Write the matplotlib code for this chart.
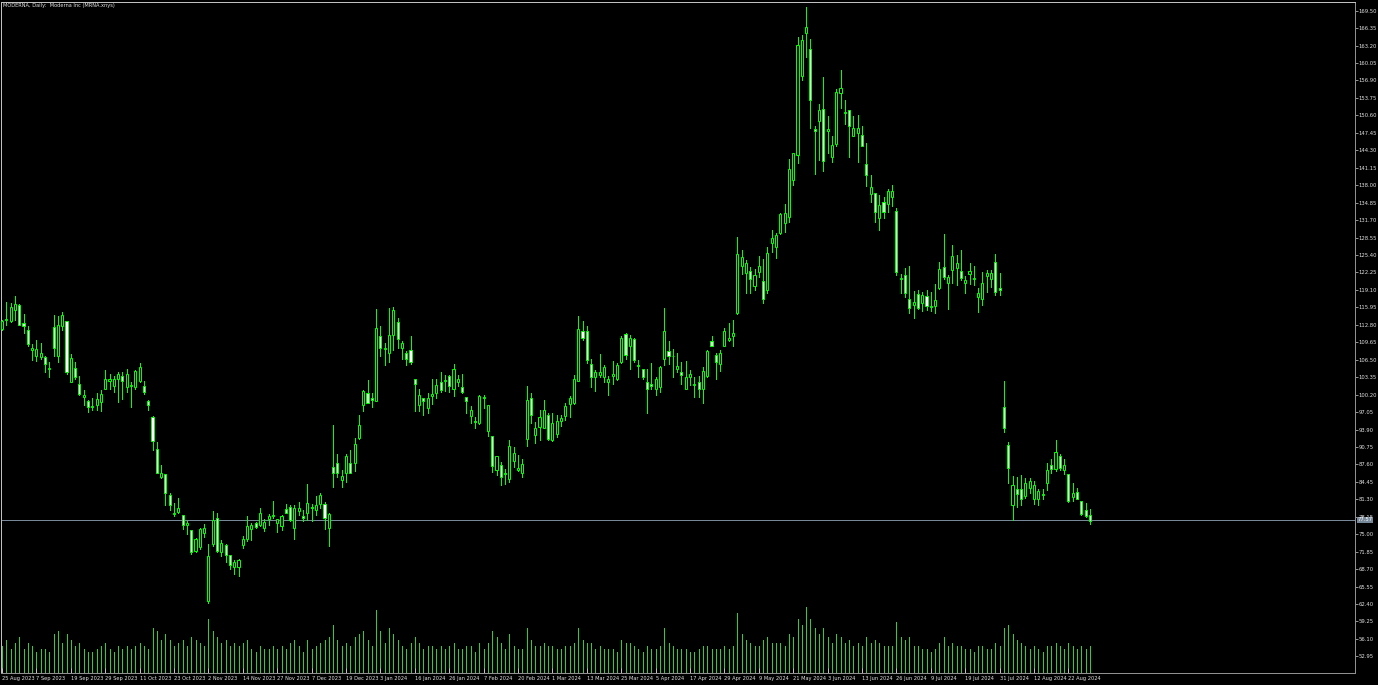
import matplotlib
matplotlib.use('Agg')
import matplotlib.pyplot as plt
from matplotlib import font_manager
import matplotlib.transforms as mtransforms

# ---------------- data (MRNA daily) ----------------
opens = [112.0, 113.6, 113.4, 115.4, 116.4, 113.1, 111.8, 108.3, 107.2, 106.9,
         107.0, 104.8, 112.4, 107.2, 112.5, 113.4, 102.4, 105.0, 102.1, 99.8,
         99.0, 98.0, 98.3, 98.9, 101.3, 102.7, 101.8, 103.0, 103.6, 101.5,
         101.8, 101.5, 102.7, 101.7, 99.1, 96.2, 90.3, 85.3, 85.9, 82.1,
         78.7, 79.1, 78.5, 76.7, 75.7, 72.0, 72.7, 75.3, 63.0, 73.2,
         77.9, 71.8, 73.0, 71.2, 69.0, 69.1, 73.0, 74.1, 75.9, 77.0,
         76.7, 76.1, 77.7, 78.2, 77.0, 76.4, 79.5, 80.0, 76.2, 79.2,
         78.2, 78.8, 79.9, 79.4, 80.4, 80.4, 76.2, 87.1, 87.8, 84.8,
         86.0, 87.8, 87.8, 92.4, 98.3, 100.5, 99.5, 99.1, 110.8, 108.4,
         107.7, 111.0, 113.3, 108.6, 107.7, 108.3, 103.0, 98.3, 99.5, 97.7,
         100.0, 100.5, 102.4, 102.7, 103.6, 101.2, 102.5, 101.5, 99.7, 96.3,
         95.4, 95.0, 99.5, 93.7, 92.7, 86.6, 87.5, 86.1, 85.0, 88.3,
         86.6, 86.0, 92.1, 99.5, 92.9, 94.4, 94.2, 96.6, 92.0, 93.0,
         95.5, 96.3, 98.5, 98.6, 102.7, 111.7, 111.6, 105.7, 103.4, 103.7,
         103.4, 102.5, 103.6, 103.1, 106.0, 111.1, 108.9, 110.2, 105.5, 104.9,
         102.5, 102.1, 101.2, 101.6, 106.6, 108.1, 107.2, 104.9, 104.3, 101.3,
         103.3, 102.0, 102.5, 101.3, 103.6, 109.8, 107.4, 105.7, 109.0, 110.1,
         110.7, 114.9, 123.4, 122.1, 122.6, 119.8, 122.4, 120.7, 119.0, 127.6,
         126.8, 129.3, 131.1, 132.2, 138.9, 143.5, 157.7, 165.4, 162.5, 148.2,
         149.5, 151.7, 147.7, 143.0, 145.4, 154.6, 151.0, 151.6, 146.9, 147.5,
         147.1, 141.8, 136.4, 136.6, 132.0, 135.0, 134.6, 135.8, 133.3, 121.1,
         121.8, 117.4, 116.4, 118.3, 116.7, 118.0, 116.1, 116.2, 119.4, 123.2,
         120.4, 122.7, 123.0, 122.6, 120.4, 122.0, 121.1, 117.9, 117.4, 121.6,
         121.0, 124.2, 119.5, 98.0, 91.1, 80.2, 83.2, 83.2, 81.9, 83.4,
         81.3, 81.3, 82.1, 84.3, 87.5, 86.7, 89.1, 86.6, 85.8, 81.7,
         82.6, 81.0, 79.3, 78.4]
highs = [113.7, 117.0, 116.7, 118.0, 116.5, 114.8, 112.5, 109.3, 110.1, 109.5,
         107.1, 106.1, 114.6, 114.3, 115.2, 113.4, 107.5, 106.1, 103.6, 101.0,
         99.3, 99.5, 100.4, 101.0, 104.6, 104.0, 103.6, 104.3, 104.3, 104.9,
         102.4, 104.6, 105.9, 102.7, 99.2, 96.3, 91.6, 87.5, 85.9, 82.4,
         80.7, 81.5, 78.5, 77.3, 75.7, 74.4, 76.2, 76.8, 73.2, 79.2,
         78.8, 73.9, 73.3, 71.2, 70.3, 70.5, 74.7, 78.3, 77.0, 77.2,
         79.7, 77.7, 78.6, 81.0, 77.7, 78.5, 80.4, 80.3, 80.3, 80.9,
         79.4, 84.1, 80.4, 81.9, 82.5, 80.9, 78.8, 94.7, 89.5, 86.6,
         89.5, 90.2, 92.3, 96.5, 101.0, 102.8, 100.5, 115.6, 112.5, 109.5,
         115.8, 116.0, 114.0, 109.8, 108.0, 110.8, 103.0, 101.3, 99.5, 100.4,
         103.0, 103.0, 104.2, 103.7, 103.7, 105.7, 103.7, 104.0, 99.8, 98.1,
         96.2, 100.1, 100.1, 98.4, 92.7, 89.1, 88.1, 86.7, 92.0, 90.8,
         89.3, 88.5, 101.8, 100.5, 95.3, 97.4, 99.2, 96.8, 96.8, 96.5,
         96.5, 98.6, 100.0, 103.7, 114.3, 113.4, 112.5, 106.7, 104.6, 107.5,
         105.5, 103.6, 106.3, 105.9, 110.8, 111.3, 111.0, 110.4, 106.5, 104.9,
         104.9, 105.9, 103.4, 105.4, 115.8, 109.8, 108.4, 107.8, 106.0, 106.3,
         104.6, 103.4, 103.6, 105.2, 108.3, 110.8, 107.8, 108.3, 112.2, 113.2,
         113.7, 128.7, 126.3, 124.5, 123.3, 122.8, 125.2, 124.6, 126.9, 129.9,
         129.3, 132.9, 134.6, 142.7, 143.9, 164.8, 165.1, 170.1, 164.3, 148.6,
         152.7, 157.6, 150.4, 146.9, 155.3, 158.8, 153.4, 151.6, 150.5, 150.7,
         148.7, 145.6, 139.8, 136.6, 136.2, 135.9, 137.4, 138.0, 133.8, 122.0,
         123.0, 123.4, 118.9, 119.1, 118.8, 119.1, 118.8, 120.1, 124.2, 129.2,
         121.8, 127.2, 125.4, 126.3, 121.6, 123.9, 123.4, 119.4, 122.4, 122.7,
         122.7, 125.6, 122.1, 102.7, 91.7, 85.5, 85.4, 85.7, 85.2, 85.1,
         84.6, 83.1, 83.2, 87.9, 88.5, 92.0, 89.5, 88.5, 85.8, 84.2,
         83.4, 81.0, 80.7, 79.5]
lows = [111.9, 112.8, 113.3, 113.7, 112.8, 111.4, 108.9, 106.5, 106.3, 106.6,
        104.3, 103.4, 107.1, 106.0, 111.8, 104.0, 102.4, 103.1, 100.1, 98.3,
        97.1, 97.5, 97.5, 97.3, 101.2, 101.3, 100.7, 98.9, 99.4, 100.7,
        97.9, 101.2, 102.4, 100.3, 97.5, 90.2, 86.1, 85.1, 80.3, 79.4,
        78.2, 78.9, 75.9, 75.1, 71.5, 71.8, 72.4, 74.5, 62.5, 72.9,
        71.8, 71.1, 70.0, 68.8, 67.8, 67.4, 72.6, 73.8, 73.9, 76.2,
        76.5, 75.6, 76.7, 78.0, 75.4, 75.7, 78.8, 77.3, 74.2, 78.5,
        77.3, 77.6, 77.3, 78.5, 79.8, 75.9, 72.8, 83.6, 85.4, 83.6,
        84.5, 86.0, 86.5, 92.1, 97.2, 98.6, 97.9, 99.1, 107.1, 105.5,
        106.1, 108.3, 108.6, 106.6, 105.5, 105.8, 97.3, 97.3, 96.5, 96.9,
        98.5, 99.5, 100.7, 100.9, 100.7, 99.9, 101.8, 100.5, 96.8, 95.1,
        94.1, 94.9, 97.7, 92.7, 86.3, 85.7, 83.9, 84.0, 84.5, 87.2,
        86.5, 85.4, 91.0, 95.1, 91.4, 92.0, 94.1, 92.0, 91.9, 92.5,
        94.5, 95.6, 96.2, 98.5, 102.7, 110.1, 105.9, 101.6, 100.9, 103.4,
        102.5, 100.1, 102.1, 102.8, 105.9, 106.7, 104.9, 106.1, 103.4, 103.1,
        96.8, 101.3, 100.1, 100.7, 105.5, 105.7, 103.4, 104.3, 102.2, 101.3,
        101.9, 99.7, 99.8, 98.7, 103.4, 108.9, 103.1, 104.5, 108.9, 109.8,
        108.9, 114.8, 122.0, 118.6, 118.6, 119.1, 121.5, 116.7, 118.5, 126.0,
        124.8, 129.2, 129.6, 131.4, 138.0, 142.0, 156.9, 161.1, 148.3, 140.1,
        142.6, 140.6, 143.9, 142.2, 145.1, 151.9, 149.0, 143.1, 146.8, 142.1,
        145.1, 137.8, 135.0, 131.4, 129.9, 132.0, 133.2, 134.2, 121.8, 118.5,
        117.9, 115.0, 114.0, 115.6, 115.3, 115.5, 115.3, 115.0, 119.2, 121.0,
        115.6, 120.4, 120.0, 120.9, 118.6, 120.1, 120.0, 115.2, 116.4, 118.8,
        119.7, 118.2, 118.2, 93.5, 84.3, 77.5, 79.9, 80.2, 81.6, 82.5,
        80.5, 80.2, 81.3, 82.9, 86.0, 86.4, 86.6, 85.8, 80.8, 81.0,
        81.3, 78.4, 78.1, 76.9]
closes = [113.4, 113.8, 116.0, 116.6, 112.8, 112.5, 109.3, 108.7, 108.4, 107.7,
          105.7, 105.0, 108.6, 112.8, 114.6, 104.2, 106.8, 103.4, 100.3, 100.1,
          98.0, 98.1, 99.4, 100.3, 103.0, 103.0, 103.0, 104.0, 102.7, 103.9,
          101.9, 104.4, 105.2, 100.7, 98.3, 91.8, 86.1, 86.0, 82.4, 80.2,
          78.9, 79.7, 76.7, 77.0, 71.8, 74.1, 75.9, 76.2, 71.1, 77.6,
          72.0, 73.5, 71.2, 69.4, 70.0, 70.3, 74.1, 76.5, 76.6, 76.3,
          78.9, 77.2, 78.3, 78.5, 77.7, 78.3, 78.8, 77.6, 79.8, 79.7,
          78.0, 80.6, 79.8, 80.3, 82.1, 77.9, 78.6, 86.0, 86.0, 85.5,
          89.2, 86.0, 91.2, 94.7, 100.9, 98.7, 99.2, 112.3, 108.6, 108.6,
          111.0, 115.4, 110.2, 109.5, 106.6, 106.0, 102.1, 100.2, 99.1, 99.5,
          100.3, 101.9, 101.0, 102.8, 101.8, 104.8, 103.0, 100.7, 99.0, 97.5,
          95.3, 100.0, 99.7, 98.4, 87.3, 89.1, 85.3, 85.9, 91.0, 89.6,
          86.9, 87.6, 99.3, 96.5, 94.1, 96.2, 97.5, 92.2, 95.0, 95.5,
          96.0, 98.1, 99.5, 103.1, 112.0, 110.4, 106.5, 103.4, 104.2, 104.2,
          105.2, 103.1, 104.0, 105.5, 110.4, 107.4, 110.5, 106.5, 105.4, 103.4,
          101.2, 101.8, 103.0, 105.1, 111.6, 107.1, 107.1, 105.4, 103.7, 103.4,
          104.0, 102.1, 101.3, 104.5, 108.0, 108.9, 106.1, 107.7, 111.6, 110.4,
          111.4, 125.6, 125.0, 124.0, 121.0, 121.8, 123.4, 117.4, 125.7, 128.4,
          129.0, 132.8, 132.9, 140.9, 143.8, 163.3, 164.2, 166.5, 153.3, 147.8,
          151.6, 142.4, 148.1, 145.3, 154.9, 155.5, 151.2, 148.6, 148.3, 148.3,
          145.1, 139.8, 137.7, 133.2, 134.4, 133.2, 136.9, 136.9, 122.4, 121.2,
          118.6, 115.9, 116.9, 115.9, 118.2, 116.2, 116.2, 117.3, 122.8, 121.5,
          121.4, 125.2, 123.9, 121.2, 120.8, 122.5, 121.2, 118.6, 120.3, 122.1,
          122.1, 118.8, 119.1, 94.1, 86.9, 83.9, 82.2, 81.4, 84.3, 84.6,
          83.9, 82.8, 82.3, 86.6, 86.7, 89.9, 86.9, 87.5, 81.0, 82.5,
          81.4, 78.7, 78.3, 77.4]
volumes = [4.5, 5.5, 4.0, 5.0, 6.0, 4.0, 5.0, 4.5, 3.5, 4.0,
           4.0, 3.5, 6.5, 7.0, 5.0, 6.5, 5.5, 4.5, 5.0, 4.0,
           3.5, 3.5, 4.0, 4.5, 5.0, 4.0, 3.5, 4.5, 4.0, 4.5,
           4.0, 4.5, 5.0, 4.5, 4.0, 7.5, 7.0, 5.5, 6.5, 5.5,
           4.5, 5.0, 5.5, 4.5, 6.0, 5.5, 5.0, 4.5, 9.0, 7.0,
           6.0, 5.0, 5.5, 4.5, 5.0, 4.5, 5.0, 5.5, 4.0, 3.5,
           4.5, 4.0, 4.0, 4.5, 4.0, 4.5, 4.0, 5.0, 5.5, 4.5,
           3.5, 5.5, 4.0, 4.5, 5.0, 5.5, 6.0, 8.0, 5.5, 4.5,
           5.0, 4.5, 6.0, 6.5, 7.0, 5.5, 4.5, 10.5, 7.0, 5.0,
           7.5, 6.5, 5.5, 4.5, 4.0, 5.0, 6.0, 5.0, 4.0, 4.5,
           4.5, 4.0, 4.5, 4.0, 4.5, 5.0, 4.0, 4.0, 4.5, 4.5,
           3.5, 5.0, 4.0, 5.0, 7.0, 6.0, 5.0, 4.0, 6.5, 4.5,
           4.0, 4.0, 7.5, 5.5, 4.5, 4.5, 5.0, 4.5, 4.5, 4.0,
           4.0, 4.5, 4.5, 5.0, 7.5, 5.5, 5.0, 5.0, 4.0, 4.5,
           4.0, 4.0, 4.0, 3.5, 5.5, 5.0, 5.0, 4.5, 4.0, 3.5,
           4.5, 4.0, 4.0, 4.5, 7.5, 5.0, 4.5, 4.0, 4.0, 4.0,
           3.5, 3.5, 4.0, 4.5, 4.5, 4.0, 4.0, 4.0, 4.5, 4.0,
           4.5, 10.0, 6.5, 5.5, 5.0, 4.5, 4.5, 5.5, 6.0, 5.0,
           5.0, 5.0, 4.5, 6.5, 6.0, 9.0, 8.0, 11.0, 9.0, 7.5,
           6.5, 7.5, 6.0, 5.0, 6.5, 6.0, 5.0, 5.5, 4.5, 5.0,
           4.5, 6.0, 5.0, 5.5, 5.0, 4.5, 4.5, 4.5, 8.5, 6.0,
           5.5, 6.0, 4.5, 4.5, 4.0, 4.0, 3.5, 4.0, 5.0, 6.0,
           4.5, 5.0, 4.5, 4.5, 4.0, 4.0, 3.5, 4.5, 4.5, 4.0,
           4.0, 5.0, 4.5, 7.5, 8.0, 6.5, 5.5, 5.0, 4.5, 4.0,
           4.5, 4.0, 3.5, 4.5, 4.5, 5.0, 4.5, 4.0, 5.0, 4.5,
           4.0, 4.5, 4.0, 4.5]

price_ticks = [52.95, 56.10, 59.25, 62.40, 65.55, 68.70, 71.85, 75.00, 78.15, 81.30,
               84.45, 87.60, 90.75, 93.90, 97.05, 100.20, 103.35, 106.50, 109.65, 112.80,
               115.95, 119.10, 122.25, 125.40, 128.55, 131.70, 134.85, 138.00, 141.15, 144.30,
               147.45, 150.60, 153.75, 156.90, 160.05, 163.20, 166.35, 169.50]
date_labels = ['25 Aug 2023', '7 Sep 2023', '19 Sep 2023', '29 Sep 2023', '11 Oct 2023',
               '23 Oct 2023', '2 Nov 2023', '14 Nov 2023', '27 Nov 2023', '7 Dec 2023',
               '19 Dec 2023', '3 Jan 2024', '16 Jan 2024', '26 Jan 2024', '7 Feb 2024',
               '20 Feb 2024', '1 Mar 2024', '13 Mar 2024', '25 Mar 2024', '5 Apr 2024',
               '17 Apr 2024', '29 Apr 2024', '9 May 2024', '21 May 2024', '3 Jun 2024',
               '13 Jun 2024', '26 Jun 2024', '9 Jul 2024', '19 Jul 2024', '31 Jul 2024',
               '12 Aug 2024', '22 Aug 2024']
date_label_bars = [8 * k for k in range(len(date_labels))]
bid_price = 77.57
title = 'MODERNA, Daily:  Moderna Inc (MRNA.xnys)'

# ---------------- layout / style ----------------
W, H, DPI = 1378, 685, 100
PX = 72.0 / DPI  # one pixel in points

# prefer a narrow font if one is installed (MT4 labels are very compressed)
narrow = None
for f in font_manager.fontManager.ttflist:
    nm = f.name.lower()
    if ('narrow' in nm or 'condensed' in nm or str(f.stretch) in ('condensed', 'semi-condensed')) \
            and f.style == 'normal' and f.weight in (400, 'normal', 'regular'):
        narrow = f
        break
if narrow is not None:
    FPROP = font_manager.FontProperties(fname=narrow.fname)
    FS_Y, FS_X = 4.2, 4.1
else:
    FPROP = font_manager.FontProperties(family='Liberation Sans')
    FS_Y, FS_X = 4.0, 3.8

LIME = '#00FF00'
VOLC = '#32CD32'
FG = '#e0e0e0'
BIDC = '#778899'

fig = plt.figure(figsize=(W / DPI, H / DPI), dpi=DPI, facecolor='black')
left_px, right_px, top_px, bot_px = 1.0, 1355.0, 1.7, 673.0
rect = [left_px / W, 1 - bot_px / H, (right_px - left_px) / W, (bot_px - top_px) / H]
axv = fig.add_axes(rect)
ax = fig.add_axes(rect, sharex=axv)
ax.patch.set_visible(False)
axv.set_facecolor('black')

bar_px, first_px = 4.3, 2.0
ax.set_xlim((left_px - first_px) / bar_px, (right_px - first_px) / bar_px)
ax.set_ylim(49.95, 171.12)

n = len(opens)
xs = list(range(n))

# volumes (own scale, anchored at bottom)
axv.vlines(xs, 0, volumes, color=VOLC, lw=PX, antialiased=False)
axv.set_ylim(0, (bot_px - top_px) / 6.0)
axv.set_yticks([])
axv.tick_params(axis='x', which='both', length=0, labelbottom=False)
for s in axv.spines.values():
    s.set_visible(False)

# wicks
ax.vlines(xs, lows, highs, color=LIME, lw=PX, zorder=2, antialiased=False)
# bodies
body_w = 0.48
for i in range(n):
    o, c = opens[i], closes[i]
    lo, hi = min(o, c), max(o, c)
    fc = 'white' if c < o else 'black'
    ax.bar(i, max(hi - lo, 0.05), bottom=lo, width=body_w, facecolor=fc,
           edgecolor=LIME, linewidth=PX, zorder=3)

# bid line
ax.axhline(bid_price, color=BIDC, lw=PX, zorder=1)
trans = mtransforms.blended_transform_factory(ax.transAxes, ax.transData)
ax.text(1.0 + 2.5 / W, bid_price, f'{bid_price:.2f}', transform=trans, ha='left', va='center',
        fontproperties=FPROP, fontsize=FS_Y, color='white', zorder=10, clip_on=False,
        bbox=dict(boxstyle='square,pad=0.15', fc=BIDC, ec='none'))

# axes styling
for name, s in ax.spines.items():
    s.set_color('#c0c0c0' if name in ('top', 'left') else '#909090')
    s.set_linewidth(PX)

ax.yaxis.tick_right()
ax.set_yticks(price_ticks)
ax.set_yticklabels([f'{v:.2f}' for v in price_ticks])
ax.tick_params(axis='y', direction='out', length=3 * PX, width=PX, color='#909090',
               labelcolor=FG, pad=0.5)
for t in ax.get_yticklabels():
    t.set_fontproperties(FPROP)
    t.set_fontsize(FS_Y)

ax.set_xticks(date_label_bars)
ax.set_xticklabels(date_labels)
ax.tick_params(axis='x', direction='in', length=5 * PX, width=PX, color='#c0c0c0',
               labelcolor=FG, pad=2.5)
for t in ax.get_xticklabels():
    t.set_horizontalalignment('left')
    t.set_fontproperties(FPROP)
    t.set_fontsize(FS_X)

fig.text(3 / W, 1 - 5.5 / H, title, ha='left', va='center', fontproperties=FPROP,
         fontsize=FS_X, color=FG)

fig.savefig('out.png', dpi=DPI, facecolor='black')
